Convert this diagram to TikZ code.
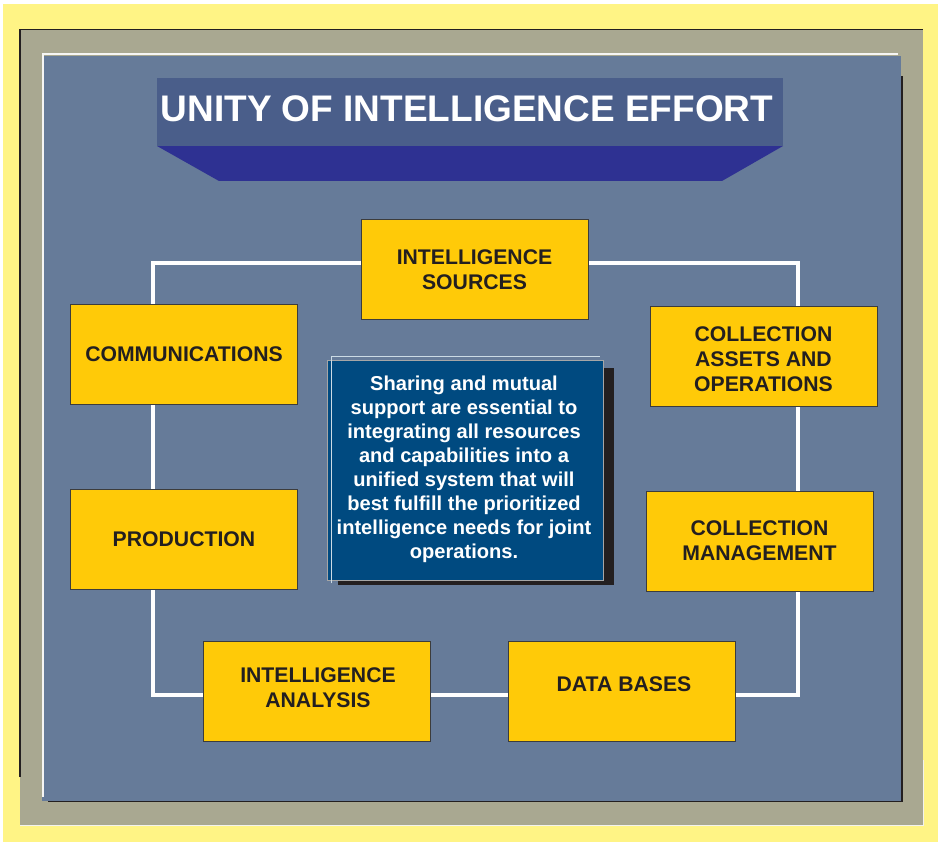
\documentclass[tikz,border=0pt]{standalone}
\usepackage{fontspec}
\setmainfont{Liberation Sans}
\definecolor{bgyellow}{RGB}{255,244,133}
\definecolor{olive}{RGB}{169,168,145}
\definecolor{panel}{RGB}{102,123,153}
\definecolor{band}{RGB}{74,94,138}
\definecolor{trap}{RGB}{46,49,146}
\definecolor{boxy}{RGB}{255,202,8}
\definecolor{boxline}{RGB}{60,60,60}
\definecolor{centerblue}{RGB}{0,74,128}
\definecolor{darkshade}{RGB}{35,31,32}
\tikzset{
  ybox/.style={draw=boxline, line width=1pt, fill=boxy, minimum width=227pt, minimum height=100pt,
    inner sep=0pt, align=center, text=darkshade, font=\bfseries\fontsize{21.2}{25}\selectfont},
  boxtxt/.style={inner sep=0pt, align=center, text=darkshade, font=\bfseries\fontsize{21.2}{25}\selectfont},
  wire/.style={draw=white, line width=3.5pt},
}
\begin{document}
\begin{tikzpicture}[x=1pt,y=-1pt]
\useasboundingbox (0,0) rectangle (938,842);
\fill[white] (0,0) rectangle (938,842);
\fill[bgyellow] (3,4) rectangle (938,842);
% olive frame
\fill[olive] (20,29) rectangle (923,825);
\draw[darkshade, line width=1.5pt] (20,777) -- (20,29.5) -- (923,29.5);
\draw[white!85!olive, line width=1pt] (20,825) -- (923,825) -- (923,760);
% blue panel
\fill[panel] (42,56) rectangle (901,801);
\draw[white!90!olive, line width=1.5pt] (43,797) -- (43,54) -- (898,54);
\draw[darkshade, line width=1.5pt] (48,801.5) -- (902,801.5) -- (902,76);
% title
\fill[trap] (157,146) -- (783,146) -- (722,181) -- (219,181) -- cycle;
\fill[band] (157,78) rectangle (783,146);
\node[text=white, font=\bfseries\fontsize{37}{40}\selectfont, inner sep=0pt] (title) at (467,109) {UNITY OF INTELLIGENCE EFFORT};
% loop connector (behind the boxes)
\coordinate (tl) at (153,263);
\coordinate (br) at (798,695);
\draw[wire] (tl) rectangle (br);
% boxes
\node[ybox] (src) at (474.5,270) {INTELLIGENCE\\SOURCES};
\node[ybox] (comm) at (184,354.5) {COMMUNICATIONS};
\node[ybox] (assets) at (763.5,356.5) {};
\node[boxtxt] (assetst) at ([yshift=-2.5pt]assets.center) {COLLECTION\\ASSETS AND\\OPERATIONS};
\node[ybox] (prod) at (184,539) {PRODUCTION};
\node[ybox] (mgmt) at (759.5,541) {COLLECTION\\MANAGEMENT};
\node[ybox] (anal) at (316.5,691) {};
\node[boxtxt] (analt) at ([yshift=3pt,xshift=1.5pt]anal.center) {INTELLIGENCE\\ANALYSIS};
\node[ybox] (db) at (621.5,691) {};
\node[boxtxt] (dbt) at ([yshift=7pt,xshift=2.5pt]db.center) {DATA BASES};
% centre box
\fill[darkshade] (338,368) rectangle (614,585);
\node[fill=centerblue, draw=gray!70, line width=0.8pt, minimum width=276pt, minimum height=220pt, inner sep=0pt] (core) at (465,470) {};
\draw[white!80!centerblue, line width=0.8pt] ([shift={(5,3)}]core.south west) -- ([shift={(5,-3)}]core.north west) -- ([shift={(-3,-3)}]core.north east);
\node[text=white, align=center, font=\bfseries\fontsize{20.1}{24}\selectfont, inner sep=0pt] (msg) at (464,469)
 {Sharing and mutual\\support are essential to\\integrating all resources\\and capabilities into a\\unified system that will\\best fulfill the prioritized\\intelligence needs for joint\\operations.};
\end{tikzpicture}
\end{document}
